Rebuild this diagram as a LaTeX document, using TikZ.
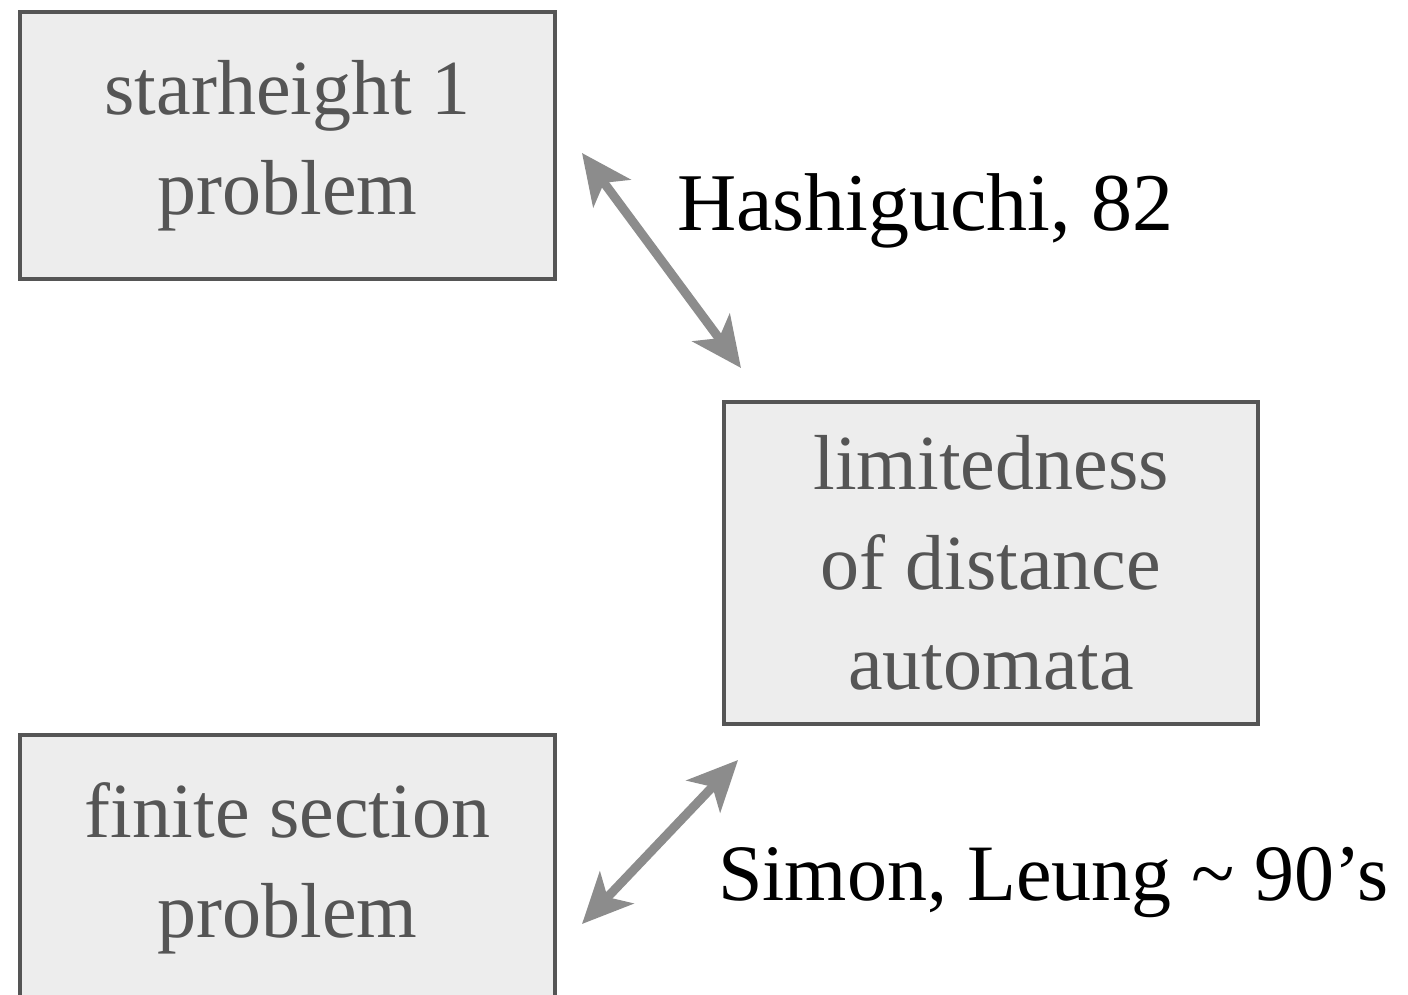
\documentclass[tikz,border=0pt]{standalone}
\usepackage{fontspec}
\setmainfont{Liberation Serif}
\usetikzlibrary{arrows.meta}
\definecolor{boxfill}{HTML}{EDEDED}
\definecolor{boxline}{HTML}{555555}
\definecolor{boxtext}{HTML}{555555}
\definecolor{arrowgray}{HTML}{8C8C8C}
\tikzset{
  probbox/.style={draw=boxline, line width=4pt, fill=boxfill, text=boxtext,
    minimum width=535pt, inner sep=0pt, align=center,
    font=\fontsize{78}{100}\selectfont},
  reflabel/.style={anchor=base west, inner sep=0pt, text=black,
    font=\fontsize{82}{100}\selectfont},
  equiv/.style={draw=arrowgray, line width=9pt,
    {Stealth[length=50pt,width=46pt,inset=13pt]}-{Stealth[length=50pt,width=46pt,inset=13pt]}}
}
\begin{document}
\begin{tikzpicture}[x=1pt,y=-1pt]
  \useasboundingbox (0,0) rectangle (1408,995);
  \clip (0,0) rectangle (1408,995);
  \fill[white] (0,0) rectangle (1408,995);

  \node[probbox, minimum height=267pt] (star) at (287.5,145.5) {starheight 1\\problem};
  \node[probbox, minimum width=534pt, minimum height=322pt] (dist) at (991,563) {limitedness\\of distance\\automata};
  \node[probbox, minimum height=267pt] (fin) at (287.5,868.5) {finite section\\problem};

  \coordinate (a1) at (582,153);
  \coordinate (a2) at (741,368);
  \coordinate (b1) at (738,760);
  \coordinate (b2) at (582,924);
  \draw[equiv] (a1) -- (a2);
  \draw[equiv] (b1) -- (b2);

  \node[reflabel] (hash) at (677,230) {Hashiguchi, 82};
  \node[reflabel, font=\fontsize{80}{100}\selectfont] (simon) at (718,900) {Simon, Leung \textasciitilde{} 90’s};
\end{tikzpicture}
\end{document}
